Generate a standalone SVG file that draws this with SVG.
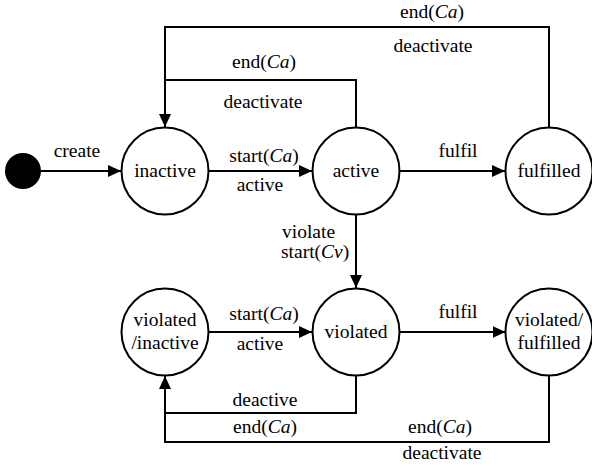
<svg xmlns="http://www.w3.org/2000/svg" width="592" height="466" viewBox="0 0 592 466" font-family="Liberation Serif, Times New Roman, serif" font-size="19.5">
<style>
.st{fill:#fff;stroke:#000;stroke-width:2}
.ln{fill:none;stroke:#000;stroke-width:2}
text{fill:#000;text-anchor:middle}
.i{font-style:italic}
.l{text-anchor:start}
</style>
<defs>
<marker id="ah" markerUnits="userSpaceOnUse" markerWidth="13" markerHeight="12" viewBox="0 0 13 12" refX="13" refY="6" orient="auto">
<path d="M0,0 L13,6 L0,12 Z" fill="#000"/>
</marker>
</defs>
<g id="connectors">
<path class="ln" d="M41,171 H121" marker-end="url(#ah)"/>
<path class="ln" d="M209,171 H312" marker-end="url(#ah)"/>
<path class="ln" d="M400,171 H505" marker-end="url(#ah)"/>
<path class="ln" d="M356,214.5 V288" marker-end="url(#ah)"/>
<path class="ln" d="M549,127.5 V27 H165 V127" marker-end="url(#ah)"/>
<path class="ln" d="M356,127.5 V80 H165"/>
<path class="ln" d="M208.5,332 H312" marker-end="url(#ah)"/>
<path class="ln" d="M399.5,332 H505.5" marker-end="url(#ah)"/>
<path class="ln" d="M356,375.5 V413 H165"/>
<path class="ln" d="M549,375.5 V442 H165 V376" marker-end="url(#ah)"/>
<text x="77" y="157">create</text>
<text x="264" y="162">start(<tspan class="i">Ca</tspan>)</text>
<text x="260" y="191">active</text>
<text x="458" y="157">fulfil</text>
<text class="l" x="282" y="238">violate</text>
<text class="l" x="281" y="258">start(<tspan class="i">Cv</tspan>)</text>
<text x="432" y="18">end(<tspan class="i">Ca</tspan>)</text>
<text x="433" y="52">deactivate</text>
<text x="264" y="68">end(<tspan class="i">Ca</tspan>)</text>
<text x="263" y="108">deactivate</text>
<text x="264" y="320">start(<tspan class="i">Ca</tspan>)</text>
<text x="260" y="350">active</text>
<text x="458" y="318">fulfil</text>
<text x="265" y="406">deactive</text>
<text x="265" y="433">end(<tspan class="i">Ca</tspan>)</text>
<text x="440" y="433">end(<tspan class="i">Ca</tspan>)</text>
<text x="442" y="459">deactivate</text>
</g>
<g id="start"><circle cx="23" cy="171" r="18" fill="#000"/></g>
<g id="inactive"><circle class="st" cx="165" cy="171" r="43.5"/><text x="165" y="177">inactive</text></g>
<g id="active"><circle class="st" cx="356" cy="171" r="43.5"/><text x="356" y="177">active</text></g>
<g id="fulfilled"><circle class="st" cx="549" cy="171" r="43.5"/><text x="549" y="177">fulfilled</text></g>
<g id="violated_inactive"><circle class="st" cx="165" cy="332" r="43.5"/><text x="165" y="326">violated</text><text x="165" y="349">/inactive</text></g>
<g id="violated"><circle class="st" cx="356" cy="332" r="43.5"/><text x="356" y="338">violated</text></g>
<g id="violated_fulfilled"><circle class="st" cx="549" cy="332" r="43.5"/><text x="549" y="326">violated/</text><text x="549" y="349">fulfilled</text></g>
</svg>
